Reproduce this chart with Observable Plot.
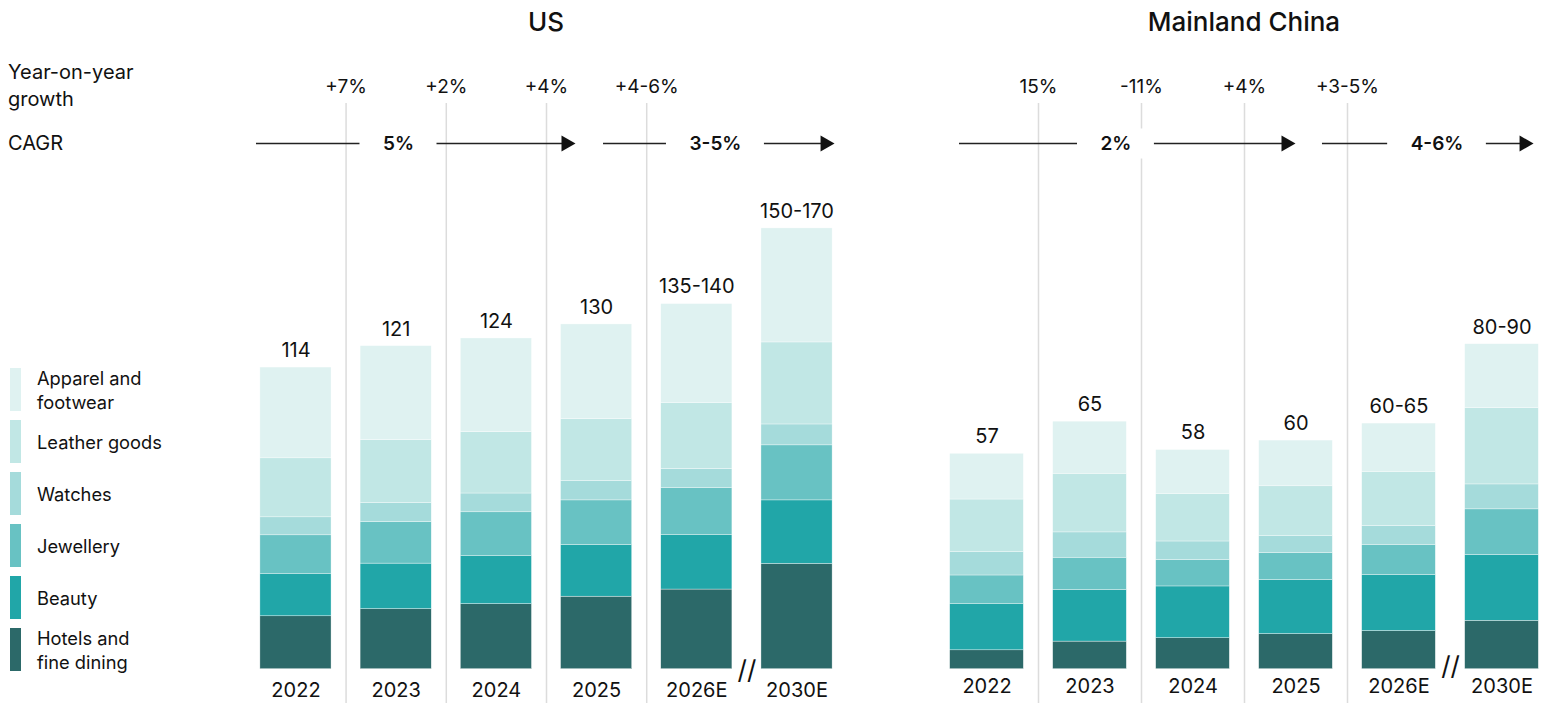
<!DOCTYPE html>
<html>
<head>
<meta charset="utf-8">
<script src="https://cdn.jsdelivr.net/npm/d3@7"></script>
<script src="https://cdn.jsdelivr.net/npm/@observablehq/plot@0.6"></script>
<style>
  body { margin: 0; background: #fff; overflow: hidden; font-family: Inter, "Noto Sans", sans-serif; color: #111; }
  #root { position: relative; width: 1542px; height: 703px; overflow: hidden; }
  .abs { position: absolute; }
  .title { font-size: 26px; font-weight: 500; text-align: center; line-height: 30px; top: 7px; }
  .rowlabel { font-size: 20px; line-height: 27px; left: 8px; }
  .legend { left: 10px; top: 368px; }
  .item { display: flex; align-items: center; height: 43px; margin-bottom: 9px; }
  .sw { width: 11px; height: 43px; flex: none; }
  .lt { margin-left: 16px; font-size: 18.3px; line-height: 24px; white-space: pre-line; }
</style>
</head>
<body>
<div id="root"></div>
<script>
// ---------- data ----------
const years = ["2022", "2023", "2024", "2025", "2026E", "2030E"];
// stacking order bottom -> top
const categories = ["Hotels and fine dining", "Beauty", "Jewellery", "Watches", "Leather goods", "Apparel and footwear"];
const colors = ["#2c6969", "#21a6a8", "#68c2c3", "#a5dbdb", "#c1e7e5", "#dff2f1"];

// US (segment values, estimated)
const usHotels  = [20.0, 22.7, 24.6, 27.4, 30.1, 39.8];
const usBeauty  = [15.9, 17.2, 18.1, 19.5, 20.7, 24.0];
const usJewel   = [14.7, 15.7, 16.6, 16.9, 17.6, 20.8];
const usWatches = [6.8, 7.2, 7.1, 7.3, 7.3, 7.9];
const usLeather = [22.3, 23.8, 23.2, 23.4, 24.9, 31.0];
const usApparel = [34.3, 35.5, 35.4, 35.8, 37.4, 43.1];
const usTotals  = ["114", "121", "124", "130", "135-140", "150-170"];
const usYoY     = ["+7%", "+2%", "+4%", "+4-6%"];
const usCagr    = ["5%", "3-5%"];

// Mainland China (segment values, estimated)
const cnHotels  = [5.0, 7.3, 8.2, 9.3, 10.1, 12.8];
const cnBeauty  = [12.2, 13.7, 13.7, 14.3, 14.8, 17.4];
const cnJewel   = [7.6, 8.5, 7.0, 7.1, 7.9, 12.1];
const cnWatches = [6.2, 6.7, 4.9, 4.5, 5.1, 6.6];
const cnLeather = [13.9, 15.5, 12.5, 13.2, 14.3, 20.2];
const cnApparel = [12.1, 13.8, 11.7, 12.1, 12.8, 16.9];
const cnTotals  = ["57", "65", "58", "60", "60-65", "80-90"];
const cnYoY     = ["15%", "-11%", "+4%", "+3-5%"];
const cnCagr    = ["2%", "4-6%"];

// ---------- layout ----------
const X0 = -0.35, X1 = 5.35;
const usLayout = {title: "US", left: 0, width: 870, ml: 260.4, mr: 38.4, ymax: 213.8, barW: 0.71,
  yearDy: 21, breakDy: 1, cagr: [[-0.394, 2.789, 1.023], [3.069, 5.374, 4.186]]};
const cnLayout = {title: "Mainland China", left: 880, width: 662, ml: 70.45, mr: 4.45, ymax: 149.7, barW: 0.715,
  yearDy: 17, breakDy: -3, cagr: [[-0.267, 2.995, 1.252], [3.257, 5.306, 4.369]]};

const root = document.getElementById("root");
const ctx = document.createElement("canvas").getContext("2d");
ctx.font = "600 19px Inter";

function makePanel(L, series, totals, yoy, cagr) {
  const rows = [];
  years.forEach((yr, i) => categories.forEach((c, k) => rows.push({i, year: yr, cat: c, value: series[k][i]})));
  const tot = years.map((yr, i) => ({i, total: d3.sum(series, s => s[i]), label: totals[i]}));
  const grid = yoy.map((_, i) => i + 0.5);
  const step = (L.width - L.ml - L.mr) / (X1 - X0);
  const hw = L.barW / 2;
  const brk = [(years.indexOf("2026E") + years.indexOf("2030E")) / 2];

  const main = Plot.plot({
    width: L.width, height: 703,
    marginTop: 103, marginBottom: 0, marginLeft: L.ml, marginRight: L.mr,
    x: {type: "linear", domain: [X0, X1], axis: null},
    y: {domain: [0, L.ymax], insetBottom: 34.3, axis: null},
    color: {domain: categories, range: colors},
    style: {fontFamily: "Inter, sans-serif", background: "none", overflow: "visible"},
    marks: [
      Plot.ruleX(grid, {x: d => d, stroke: "#dcdcdc", strokeWidth: 1.5}),
      Plot.rectY(rows, Plot.stackY({x1: d => d.i - hw, x2: d => d.i + hw, y: "value", fill: "cat", stroke: "#fff", strokeWidth: 0.5, strokeOpacity: 0.7})),
      Plot.text(tot, {x: "i", y: "total", text: "label", dy: -17, fontSize: 20, fill: "#111"}),
      Plot.text(years, {x: (d, i) => i, y: () => 0, text: d => d, dy: L.yearDy, fontSize: 20, fill: "#111"}),
      Plot.text(brk, {x: d => d, y: () => 0, text: () => "//", dy: L.breakDy, fontSize: 26, fill: "#111"})
    ]
  });

  const cg = cagr.map((label, j) => ({
    label, start: L.cagr[j][0], end: L.cagr[j][1], mid: L.cagr[j][2],
    gap: (ctx.measureText(label).width / 2 + 23) / step
  }));

  const header = Plot.plot({
    width: L.width, height: 170,
    marginTop: 86, marginBottom: 27, marginLeft: L.ml, marginRight: L.mr,
    x: {type: "linear", domain: [X0, X1], axis: null},
    y: {type: "point", domain: ["yoy", "cagr"], padding: 0, axis: null},
    style: {fontFamily: "Inter, sans-serif", background: "none", overflow: "visible"},
    marks: [
      Plot.text(yoy, {x: (d, i) => grid[i], y: () => "yoy", text: d => d, fontSize: 19, fill: "#111"}),
      Plot.ruleY(cg, {x1: "start", x2: "end", y: () => "cagr", stroke: "#222", strokeWidth: 1.6, insetRight: 10}),
      Plot.ruleY(cg, {x1: d => d.mid - d.gap, x2: d => d.mid + d.gap, y: () => "cagr", stroke: "#fff", strokeWidth: 30}),
      Plot.dot(cg, {x: "end", y: () => "cagr", symbol: "triangle", r: 6, rotate: 90, fill: "#111", dx: -9.3}),
      Plot.text(cg, {x: "mid", y: () => "cagr", text: "label", fontSize: 19, fontWeight: 600, fill: "#111"})
    ]
  });

  for (const svg of [main, header]) {
    svg.style.position = "absolute";
    svg.style.left = L.left + "px";
    svg.style.top = "0px";
    root.appendChild(svg);
  }

  const t = document.createElement("div");
  t.className = "abs title";
  const barLeft = L.left + L.ml + (0 - X0 - hw) * step;
  const barRight = L.left + L.ml + (years.length - 1 - X0 + hw) * step;
  t.style.left = barLeft + "px";
  t.style.width = (barRight - barLeft) + "px";
  t.textContent = L.title;
  root.appendChild(t);
}

makePanel(usLayout, [usHotels, usBeauty, usJewel, usWatches, usLeather, usApparel], usTotals, usYoY, usCagr);
makePanel(cnLayout, [cnHotels, cnBeauty, cnJewel, cnWatches, cnLeather, cnApparel], cnTotals, cnYoY, cnCagr);

// row labels
const r1 = document.createElement("div");
r1.className = "abs rowlabel"; r1.style.top = "59px";
r1.innerHTML = "Year-on-year<br>growth";
root.appendChild(r1);
const r2 = document.createElement("div");
r2.className = "abs rowlabel"; r2.style.top = "130px";
r2.textContent = "CAGR";
root.appendChild(r2);

// legend (top -> bottom is reverse of stacking order)
const lg = document.createElement("div");
lg.className = "abs legend";
categories.slice().reverse().forEach(c => {
  const k = categories.indexOf(c);
  const it = document.createElement("div"); it.className = "item";
  const sw = document.createElement("div"); sw.className = "sw"; sw.style.background = colors[k];
  const tx = document.createElement("div"); tx.className = "lt"; tx.textContent = c.replace("and ", "and\n");
  it.appendChild(sw); it.appendChild(tx); lg.appendChild(it);
});
root.appendChild(lg);
</script>
</body>
</html>
